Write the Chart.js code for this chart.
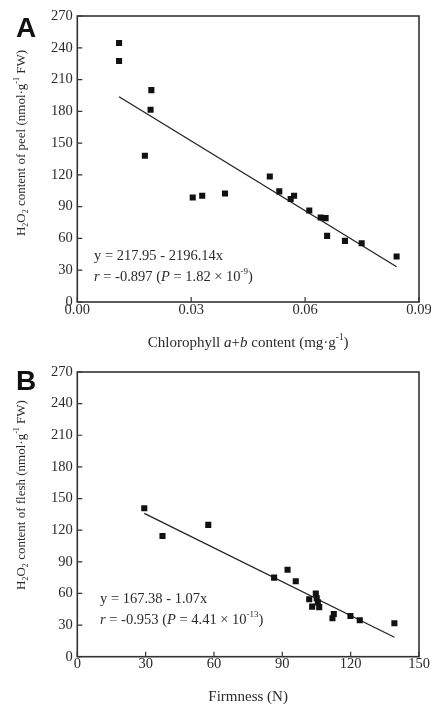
<!DOCTYPE html>
<html>
<head>
<meta charset="utf-8">
<script src="https://cdn.jsdelivr.net/npm/chart.js@4.4.1/dist/chart.umd.min.js"></script>
<style>
  html, body { margin: 0; padding: 0; background: #fff; }
  .panel { position: absolute; left: 0; width: 431px; height: 352px; }
  #panelA { top: 0; }
  #panelB { top: 352px; }
</style>
</head>
<body>
<div class="panel" id="panelA"><canvas id="chartA"></canvas></div>
<div class="panel" id="panelB"><canvas id="chartB"></canvas></div>
<script>
// ---- Panel A: chlorophyll a+b vs H2O2 of peel ----
const chlorophyllA = [0.0110, 0.0110, 0.0195, 0.0193, 0.0178, 0.0507, 0.0304, 0.0329, 0.0389, 0.0532,
  0.0562, 0.0571, 0.0611, 0.0641, 0.0654, 0.0658, 0.0705, 0.0749, 0.0841];
const peelH2O2 = [244.5, 227.5, 200, 181.5, 138, 118.5, 98.7, 100.3, 102.5, 104.4,
  97.2, 100.3, 86.4, 79.8, 79.2, 62.4, 57.7, 55.5, 42.9];
const fitA = [217.95, -2196.14];      // intercept, slope
const fitRangeA = [0.0110, 0.0841];
const xTicksA = [0, 0.03, 0.06, 0.09];

// ---- Panel B: firmness vs H2O2 of flesh ----
const firmnessB = [29.4, 37.4, 57.5, 86.4, 92.3, 95.9, 101.8, 103.1, 104.7, 105.1,
  105.6, 106.2, 112.0, 112.6, 119.9, 124.0, 139.2];
const fleshH2O2 = [140.8, 114.5, 125, 75, 82.5, 71.5, 54.5, 47.5, 60, 55.5,
  51.5, 47, 36.5, 40.5, 38.6, 34.5, 31.7];
const fitB = [167.38, -1.07];
const fitRangeB = [29.4, 139.2];
const xTicksB = [0, 30, 60, 90, 120, 150];

const yTicks = [0, 30, 60, 90, 120, 150, 180, 210, 240, 270];

const SERIF = "'Liberation Serif', 'Times New Roman', serif";
const INK = '#2a2a2a';

// draw text made of pieces: [text, style] where style is '', 'i', 'sub' or 'sup'
function drawRich(ctx, parts, x, y, size, align) {
  const fontFor = (st) => {
    const s = (st === 'sub' || st === 'sup') ? size * 0.62 : size;
    return (st === 'i' ? 'italic ' : '') + s + 'px ' + SERIF;
  };
  let total = 0;
  parts.forEach(p => { ctx.font = fontFor(p[1]); total += ctx.measureText(p[0]).width; });
  let cx = align === 'center' ? x - total / 2 : x;
  ctx.textBaseline = 'middle';
  ctx.textAlign = 'left';
  parts.forEach(p => {
    ctx.font = fontFor(p[1]);
    let dy = 0;
    if (p[1] === 'sub') dy = size * 0.32;
    if (p[1] === 'sup') dy = -size * 0.36;
    ctx.fillText(p[0], cx, y + dy);
    cx += ctx.measureText(p[0]).width;
  });
}

// frame, inward ticks, panel letter, axis titles and equation
const decorations = {
  id: 'decorations',
  afterDraw(chart, args, opts) {
    const ctx = chart.ctx;
    const a = chart.chartArea;
    const xs = chart.scales.x, ys = chart.scales.y;
    ctx.save();
    ctx.strokeStyle = '#333';
    ctx.lineWidth = 1.6;
    ctx.strokeRect(a.left, a.top, a.right - a.left, a.bottom - a.top);
    ctx.lineWidth = 1.2;
    ctx.beginPath();
    xs.ticks.forEach(t => {
      const px = xs.getPixelForValue(t.value);
      ctx.moveTo(px, a.bottom); ctx.lineTo(px, a.bottom - 5);
    });
    ys.ticks.forEach(t => {
      const py = ys.getPixelForValue(t.value);
      ctx.moveTo(a.left, py); ctx.lineTo(a.left + 5, py);
    });
    ctx.stroke();

    ctx.fillStyle = '#111';
    ctx.font = 'bold 28px "Liberation Sans", Arial, sans-serif';
    ctx.textAlign = 'left';
    ctx.textBaseline = 'alphabetic';
    ctx.fillText(opts.letter, 16, opts.letterY);

    ctx.fillStyle = INK;
    drawRich(ctx, opts.xTitle, (a.left + a.right) / 2, opts.xTitleY, 15, 'center');
    ctx.save();
    ctx.translate(21.5, opts.yTitleY);
    ctx.rotate(-Math.PI / 2);
    drawRich(ctx, opts.yTitle, 0, 0, 13, 'center');
    ctx.restore();
    opts.equation.forEach((line, i) => {
      drawRich(ctx, line, opts.eqX, opts.eqY[i], 14.5, 'left');
    });
    ctx.restore();
  }
};

function makeChart(id, xs, ys, fit, range, xTicks, xFmt, bottomH, topPad, deco) {
  const points = xs.map((v, i) => ({ x: v, y: ys[i] }));
  const line = range.map(v => ({ x: v, y: fit[0] + fit[1] * v }));
  return new Chart(document.getElementById(id), {
    type: 'scatter',
    data: {
      datasets: [
        { data: points, pointStyle: 'rect', pointRadius: 4.3, pointHoverRadius: 4.3,
          backgroundColor: '#111', borderWidth: 0 },
        { type: 'line', data: line, borderColor: '#222', borderWidth: 1.3,
          pointRadius: 0, fill: false }
      ]
    },
    options: {
      responsive: true,
      maintainAspectRatio: false,
      animation: false,
      events: [],
      layout: { padding: { left: 0, right: 12, top: topPad, bottom: 0 } },
      plugins: { legend: { display: false }, tooltip: { enabled: false }, decorations: deco },
      scales: {
        x: {
          type: 'linear', min: xTicks[0], max: xTicks[xTicks.length - 1],
          afterBuildTicks: s => { s.ticks = xTicks.map(v => ({ value: v })); },
          afterFit: s => { s.height = bottomH; s.paddingLeft = 0; s.paddingRight = 0; },
          grid: { display: false, drawTicks: false },
          border: { display: false },
          ticks: { padding: -1, color: INK, font: { family: SERIF, size: 14.5 }, maxRotation: 0,
            autoSkip: false, callback: v => xFmt(v) }
        },
        y: {
          type: 'linear', min: 0, max: 270,
          afterBuildTicks: s => { s.ticks = yTicks.map(v => ({ value: v })); },
          afterFit: s => { s.width = 77.3; s.paddingTop = 0; s.paddingBottom = 0; },
          grid: { display: false, drawTicks: false },
          border: { display: false },
          ticks: { padding: 4.5, color: INK, font: { family: SERIF, size: 14.5 }, autoSkip: false }
        }
      }
    },
    plugins: [decorations]
  });
}

makeChart('chartA', chlorophyllA, peelH2O2, fitA, fitRangeA, xTicksA, v => v.toFixed(2), 50, 16, {
  letter: 'A', letterY: 37,
  xTitle: [['Chlorophyll ', ''], ['a', 'i'], ['+', ''], ['b', 'i'], [' content (mg·g', ''], ['-1', 'sup'], [')', '']],
  xTitleY: 343,
  yTitle: [['H', ''], ['2', 'sub'], ['O', ''], ['2', 'sub'], [' content of peel (nmol·g', ''], ['-1', 'sup'], [' FW)', '']],
  yTitleY: 143,
  eqX: 94,
  eqY: [256, 277],
  equation: [
    [['y = 217.95 - 2196.14x', '']],
    [['r', 'i'], [' = -0.897 (', ''], ['P', 'i'], [' = 1.82 × 10', ''], ['-9', 'sup'], [')', '']]
  ]
});

makeChart('chartB', firmnessB, fleshH2O2, fitB, fitRangeB, xTicksB, v => String(v), 47.3, 20, {
  letter: 'B', letterY: 38,
  xTitle: [['Firmness (N)', '']],
  xTitleY: 345,
  yTitle: [['H', ''], ['2', 'sub'], ['O', ''], ['2', 'sub'], [' content of flesh (nmol·g', ''], ['-1', 'sup'], [' FW)', '']],
  yTitleY: 143,
  eqX: 100,
  eqY: [247, 268],
  equation: [
    [['y = 167.38 - 1.07x', '']],
    [['r', 'i'], [' = -0.953 (', ''], ['P', 'i'], [' = 4.41 × 10', ''], ['-13', 'sup'], [')', '']]
  ]
});
</script>
</body>
</html>
